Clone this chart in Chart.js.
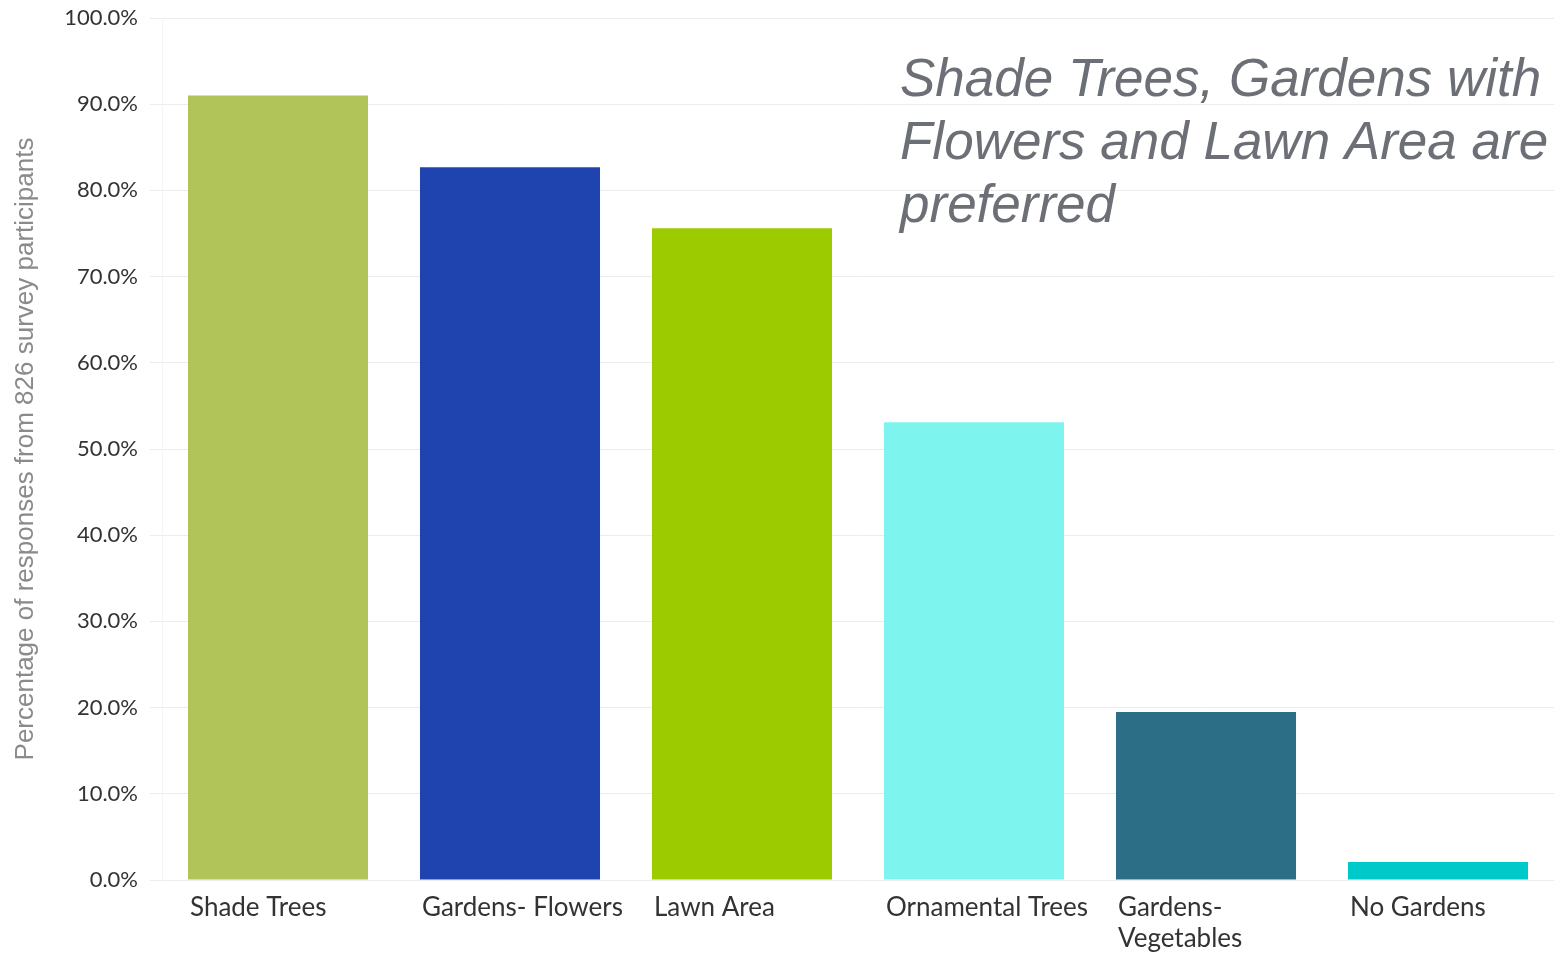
<!DOCTYPE html>
<html>
<head>
<meta charset="utf-8">
<title>Preferred landscape features</title>
<script src="https://cdn.jsdelivr.net/npm/chart.js@4"></script>
<style>
  html, body { margin: 0; padding: 0; background: #fff; }
  #wrap { width: 1554px; height: 955px; position: relative; }
</style>
</head>
<body>
<div id="wrap"><canvas id="prefChart"></canvas></div>
<script>
const categories = ['Shade Trees', 'Gardens- Flowers', 'Lawn Area', 'Ornamental Trees', ['Gardens-', 'Vegetables'], 'No Gardens'];
const responses = [91.0, 82.7, 75.6, 53.1, 19.5, 2.1];
const barColors = ['#b1c459', '#1f44b0', '#9ccb00', '#7df4ee', '#2c6e85', '#00c9c9'];
const yTicks = [0, 10, 20, 30, 40, 50, 60, 70, 80, 90, 100];
const headline = ['Shade Trees, Gardens with', 'Flowers and Lawn Area are', 'preferred'];

// headline text sits over the upper right of the plot
const headlinePlugin = {
    id: 'headline',
    afterDraw(chart) {
        const ctx = chart.ctx;
        ctx.save();
        ctx.font = 'italic 53px "Liberation Sans", Arial, sans-serif';
        ctx.fillStyle = '#6c6f75';
        ctx.textAlign = 'left';
        ctx.textBaseline = 'alphabetic';
        headline.forEach((line, i) => {
            ctx.fillText(line, 900, 96 + i * 63);
        });
        ctx.restore();
    }
};

const ctx = document.getElementById('prefChart').getContext('2d');
new Chart(ctx, {
    type: 'bar',
    data: {
        labels: categories,
        datasets: [{
            label: 'Responses',
            data: responses,
            backgroundColor: barColors,
            borderWidth: 0,
            barPercentage: 0.776,
            categoryPercentage: 1
        }]
    },
    options: {
        responsive: true,
        maintainAspectRatio: false,
        animation: false,
        layout: { padding: { top: 18, right: 0, left: 0, bottom: 0 } },
        plugins: {
            legend: { display: false },
            tooltip: { enabled: false }
        },
        scales: {
            x: {
                grid: { display: false },
                border: { display: false },
                ticks: {
                    align: 'start',
                    labelOffset: -88,
                    padding: 4,
                    maxRotation: 0,
                    autoSkip: false,
                    color: '#333',
                    font: { family: 'Lato, "Open Sans", sans-serif', size: 26, lineHeight: 1.2 }
                },
                afterFit(scale) {
                    // labels are shifted left, so no extra room is needed at the edges
                    scale.height = 75;
                    scale.paddingLeft = 0;
                    scale.paddingRight = 0;
                }
            },
            y: {
                min: 0,
                max: 100,
                afterBuildTicks(scale) {
                    scale.ticks = yTicks.map(v => ({ value: v }));
                },
                grid: { color: '#ececec', lineWidth: 1, tickLength: 12 },
                border: { display: true, color: '#f4f4f4' },
                ticks: {
                    padding: 12,
                    color: '#333',
                    font: { family: 'Lato, "Open Sans", sans-serif', size: 22 },
                    callback: v => v.toFixed(1) + '%'
                },
                title: {
                    display: true,
                    text: 'Percentage of responses from 826 survey participants',
                    color: '#8a8a8a',
                    padding: { top: 10, bottom: 0 },
                    font: { family: '"Liberation Sans", Arial, sans-serif', size: 26 }
                },
                afterFit(scale) {
                    scale.width = 162;
                    scale.paddingTop = 0;
                    scale.paddingBottom = 0;
                }
            }
        }
    },
    plugins: [headlinePlugin]
});
</script>
</body>
</html>
